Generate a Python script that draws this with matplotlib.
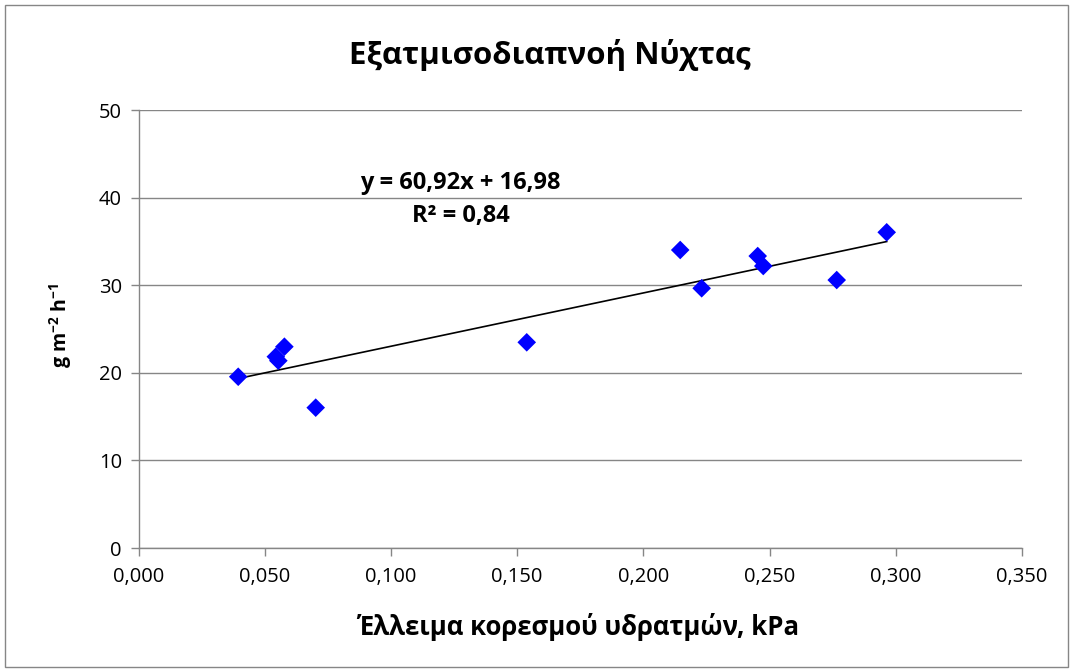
import matplotlib
matplotlib.use("Agg")
import matplotlib.pyplot as plt
import numpy as np
from matplotlib.ticker import FuncFormatter, MultipleLocator
from matplotlib.patches import Rectangle

plt.rcParams['font.family'] = ['Open Sans', 'DejaVu Sans']
plt.rcParams['mathtext.fontset'] = 'custom'
plt.rcParams['mathtext.rm'] = 'Open Sans'
plt.rcParams['mathtext.bf'] = 'Open Sans:bold'

# Data
vpd = [0.0395, 0.0544, 0.0554, 0.0578, 0.0702, 0.1538, 0.2146, 0.2231,
       0.2453, 0.2475, 0.2766, 0.2964]
et = [19.55, 21.84, 21.38, 22.98, 16.02, 23.48, 34.02, 29.65,
      33.33, 32.19, 30.59, 36.04]
title = "Εξατμισοδιαπνοή Νύχτας"
xlabel = "Έλλειμα κορεσμού υδρατμών, kPa"
ylabel = r"g m$^{\mathbf{-2}}$ h$^{\mathbf{-1}}$"
eq_text = "y = 60,92x + 16,98"
r2_text = "R² = 0,84"

fig = plt.figure(figsize=(10.73, 6.72), dpi=100)
W, H = 1073, 672
left, right, top, bottom = 138.5, 1022, 110, 548
ax = fig.add_axes([left / W, 1 - bottom / H, (right - left) / W, (bottom - top) / H])

# outer border
fig.patches.append(Rectangle((5 / W, 5 / H), 1 - 10 / W, 1 - 10 / H, transform=fig.transFigure,
                             fill=False, edgecolor='#868686', linewidth=1.0))

ax.set_xlim(0, 0.35)
ax.set_ylim(0, 50)
ax.xaxis.set_major_locator(MultipleLocator(0.05))
ax.yaxis.set_major_locator(MultipleLocator(10))
ax.xaxis.set_major_formatter(FuncFormatter(lambda v, p: f"{v:.3f}".replace('.', ',')))
ax.yaxis.set_major_formatter(FuncFormatter(lambda v, p: f"{v:.0f}"))
ax.grid(axis='y', color='#868686', linewidth=1.0)
ax.set_axisbelow(True)
for s in ['top', 'right']:
    ax.spines[s].set_visible(False)
for s in ['left', 'bottom']:
    ax.spines[s].set_color('#868686')
    ax.spines[s].set_linewidth(1.0)
ax.tick_params(axis='both', colors='#868686', labelcolor='black', labelsize=14.5,
               length=6, width=1.0, direction='out')
ax.tick_params(axis='x', pad=8)
ax.tick_params(axis='y', pad=6)

# trend line
coef = np.polyfit(vpd, et, 1)
xs = np.array([min(vpd), max(vpd)])
ax.plot(xs, np.polyval(coef, xs), color='black', linewidth=1.2, zorder=3)

ax.scatter(vpd, et, marker='D', s=90, color='#0000FF', edgecolors='none', zorder=4, clip_on=False)

ax.text(0.1274, 41.7, eq_text, ha='center', va='center', fontsize=17, fontweight='bold')
ax.text(0.1276, 37.9, r2_text, ha='center', va='center', fontsize=17, fontweight='bold')

fig.text(550 / W, 1 - 55 / H, title, ha='center', va='center', fontsize=22.5, fontweight='bold')
fig.text(578 / W, 1 - 627 / H, xlabel, ha='center', va='center', fontsize=18.5, fontweight='bold')
fig.text(61 / W, 1 - 325 / H, ylabel, ha='center', va='center', fontsize=14,
         fontweight='bold', rotation=90)

fig.savefig("out.png", dpi=100)
